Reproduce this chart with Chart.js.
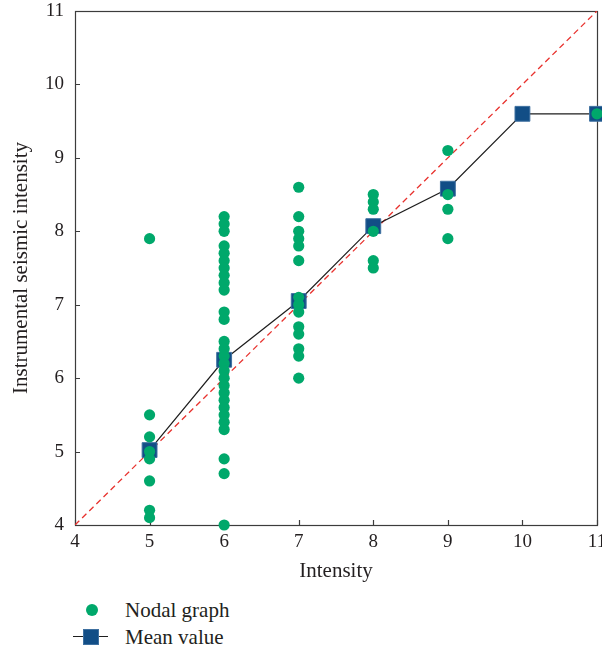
<!DOCTYPE html>
<html>
<head>
<meta charset="utf-8">
<script src="https://cdn.jsdelivr.net/npm/chart.js@4.4.1/dist/chart.umd.min.js"></script>
<style>
    body { margin: 0; background: #fff; }
    #wrap { position: relative; width: 602px; height: 652px; font-family: "Liberation Serif", "DejaVu Serif", serif; color: #231f20; }
    #chart { position: absolute; left: 0; top: 0; }
    .leg-row { position: absolute; left: 125px; font-size: 21px; line-height: 24px; height: 24px; white-space: nowrap; }
    .leg-dot { position: absolute; left: 86px; top: 604px; width: 12px; height: 12px; border-radius: 50%; background: #00a86b; }
    .leg-line { position: absolute; left: 73px; top: 636px; width: 35px; height: 1.3px; background: #1e1e1e; }
    .leg-square { position: absolute; left: 83px; top: 629px; width: 14px; height: 14px; background: #124e86; border: 1px solid #3e70a0; }
</style>
</head>
<body>
<div id="wrap">
    <canvas id="chart" width="602" height="590"></canvas>
    <span class="leg-dot"></span>
    <div class="leg-row" style="top:598px">Nodal graph</div>
    <span class="leg-line"></span>
    <span class="leg-square"></span>
    <div class="leg-row" style="top:625px">Mean value</div>
</div>
<script>
// valori
const intensityTicks = [4, 5, 6, 7, 8, 9, 10, 11];
const nodalAt5 = [7.9, 5.5, 5.2, 5.0, 4.9, 4.6, 4.2, 4.1];
const nodalAt6 = [8.2, 8.1, 8.0, 7.8, 7.7, 7.6, 7.5, 7.4, 7.3, 7.2, 6.9, 6.8, 6.5, 6.4, 6.3, 6.2, 6.1, 6.0,
                  5.9, 5.8, 5.7, 5.6, 5.5, 5.4, 5.3, 4.9, 4.7, 4.0];
const nodalAt7 = [8.6, 8.2, 8.0, 7.9, 7.8, 7.6, 7.1, 7.0, 6.9, 6.7, 6.6, 6.4, 6.3, 6.0];
const nodalAt8 = [8.5, 8.4, 8.3, 8.0, 7.6, 7.5];
const nodalAt9 = [9.1, 8.5, 8.3, 7.9];
const nodalAt11 = [9.6];
const meanIntensity = [5, 6, 7, 8, 9, 10, 11];
const meanValues = [5.02, 6.25, 7.05, 8.07, 8.58, 9.6, 9.6];
const referenceLine = [4, 11];

const FAMILY = '"Liberation Serif", "DejaVu Serif", serif';
const TICK_FONT = { family: FAMILY, size: 19 };
const TITLE_FONT = { family: FAMILY, size: 21 };
const TEXT_COLOR = "#231f20";

function buildNodalPoints() {
    const groups = [[5, nodalAt5], [6, nodalAt6], [7, nodalAt7], [8, nodalAt8], [9, nodalAt9], [11, nodalAt11]];
    const pts = [];
    groups.forEach(function (g) {
        g[1].forEach(v => pts.push({ x: g[0], y: v }));
    });
    return pts;
}

// cornice e tacche interne
const frameAndTicks = {
    id: "frameAndTicks",
    beforeDatasetsDraw(chart) {
        const { ctx, chartArea: a, scales: { x, y } } = chart;
        ctx.save();
        ctx.strokeStyle = "#3c3c3c";
        ctx.lineWidth = 1.2;
        ctx.strokeRect(a.left + 0.5, a.top + 0.5, a.right - a.left, a.bottom - a.top);
        ctx.beginPath();
        x.ticks.forEach(t => {
            const px = Math.round(x.getPixelForValue(t.value)) + 0.5;
            ctx.moveTo(px, a.bottom);
            ctx.lineTo(px, a.bottom - 5);
        });
        y.ticks.forEach(t => {
            const py = Math.round(y.getPixelForValue(t.value)) + 0.5;
            ctx.moveTo(a.left, py);
            ctx.lineTo(a.left + 5, py);
        });
        ctx.stroke();
        ctx.restore();
    }
};

function fixedTicks(scale) {
    scale.ticks = intensityTicks.map(v => ({ value: v }));
}

function noScalePadding(s) {
    s.paddingLeft = 0; s.paddingRight = 0; s.paddingTop = 0; s.paddingBottom = 0;
}

window.addEventListener("load", function () {
    new Chart(document.getElementById("chart"), {
        type: "scatter",
        data: {
            datasets: [
                {
                    type: "scatter", label: "Nodal graph", data: buildNodalPoints(),
                    backgroundColor: "#00a86b", borderWidth: 0, pointRadius: 5.6, order: 0, clip: false
                },
                {
                    type: "line", label: "Mean value",
                    data: meanIntensity.map((x, i) => ({ x: x, y: meanValues[i] })),
                    borderColor: "#1e1e1e", borderWidth: 1.2, tension: 0, fill: false,
                    pointStyle: "rect", pointRadius: 10.5,
                    pointBackgroundColor: "#124e86", pointBorderColor: "#3e70a0", pointBorderWidth: 1,
                    order: 1, clip: false
                },
                {
                    type: "line", label: "1:1",
                    data: referenceLine.map(v => ({ x: v, y: v })),
                    borderColor: "#e8322e", borderWidth: 1.3, borderDash: [6, 4],
                    pointRadius: 0, fill: false, order: 2
                }
            ]
        },
        options: {
            responsive: false,
            animation: false,
            events: [],
            layout: { autoPadding: false, padding: { top: 11, right: 5, left: 0, bottom: 0 } },
            plugins: { legend: { display: false }, tooltip: { enabled: false } },
            scales: {
                x: {
                    type: "linear", min: 4, max: 11,
                    afterBuildTicks: fixedTicks,
                    afterFit(s) { s.height = 65; noScalePadding(s); },
                    grid: { display: false, drawTicks: false }, border: { display: false },
                    ticks: { padding: 6, color: TEXT_COLOR, font: TICK_FONT },
                    title: { display: true, text: "Intensity", color: TEXT_COLOR, font: TITLE_FONT, padding: { top: 0, bottom: 6 } }
                },
                y: {
                    type: "linear", min: 4, max: 11,
                    afterBuildTicks: fixedTicks,
                    afterFit(s) { s.width = 75; noScalePadding(s); },
                    grid: { display: false, drawTicks: false }, border: { display: false },
                    ticks: { padding: 11, color: TEXT_COLOR, font: TICK_FONT },
                    title: { display: true, text: "Instrumental seismic intensity", color: TEXT_COLOR, font: TITLE_FONT, padding: { top: 9, bottom: 0 } }
                }
            }
        },
        plugins: [frameAndTicks]
    });
});
</script>
</body>
</html>
